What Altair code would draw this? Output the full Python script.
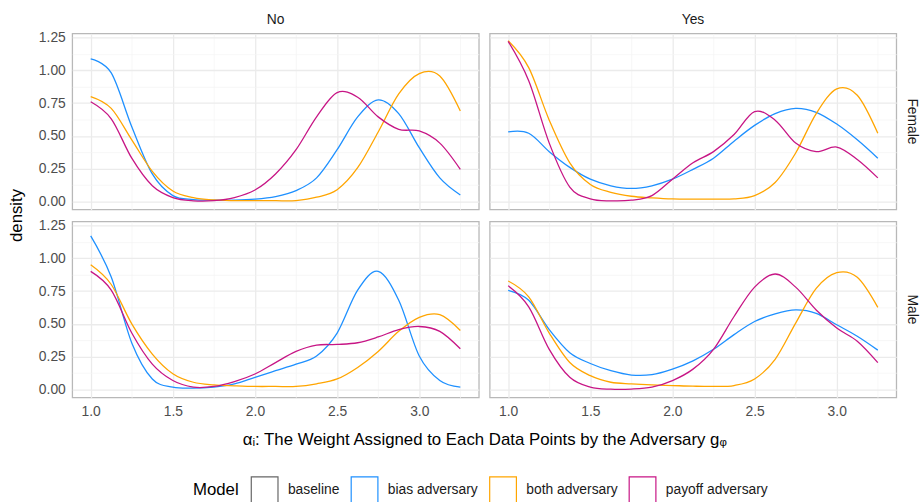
import altair as alt
import pandas as pd

# common evaluation grid for the density curves
x_grid = [1.0, 1.125, 1.25, 1.375, 1.5, 1.625, 1.75, 1.875, 2.0, 2.125,
          2.25, 2.375, 2.5, 2.625, 2.75, 2.875, 3.0, 3.125, 3.25]

models = ["baseline", "bias adversary", "both adversary", "payoff adversary"]
colors = ["#666666", "#1E90FF", "#FFA500", "#C71585"]

# Female / No
f_no_bias = [1.0875, 0.98, 0.57, 0.21, 0.045, 0.015, 0.01, 0.01, 0.0175, 0.0375,
             0.083, 0.18, 0.395, 0.645, 0.775, 0.67, 0.41, 0.18, 0.05]
f_no_both = [0.80, 0.71, 0.47, 0.23, 0.08, 0.03, 0.012, 0.007, 0.006, 0.006,
             0.0075, 0.0325, 0.09, 0.2575, 0.53, 0.82, 0.975, 0.957, 0.69]
f_no_payoff = [0.76, 0.63, 0.33, 0.12, 0.03, 0.005, 0.006, 0.03, 0.0875, 0.21,
               0.395, 0.645, 0.83, 0.795, 0.645, 0.55, 0.5375, 0.445, 0.245]
# Female / Yes
f_yes_bias = [0.53, 0.52, 0.38, 0.26, 0.17, 0.12, 0.10, 0.12, 0.17, 0.245,
              0.33, 0.46, 0.58, 0.67, 0.71, 0.68, 0.59, 0.47, 0.33]
f_yes_both = [1.225, 1.02, 0.62, 0.295, 0.13, 0.07, 0.04, 0.028, 0.02, 0.018,
              0.018, 0.02, 0.045, 0.145, 0.37, 0.67, 0.858, 0.81, 0.52]
f_yes_payoff = [1.22, 0.92, 0.445, 0.11, 0.02, 0.005, 0.01, 0.045, 0.17, 0.295,
                0.38, 0.51, 0.685, 0.62, 0.445, 0.38, 0.415, 0.32, 0.18]
# Male / No
m_no_bias = [1.17, 0.857, 0.355, 0.08, 0.018, 0.01, 0.018, 0.043, 0.093, 0.143,
             0.193, 0.255, 0.43, 0.757, 0.90, 0.68, 0.255, 0.068, 0.018]
m_no_both = [0.95, 0.80, 0.50, 0.27, 0.12, 0.055, 0.035, 0.028, 0.023, 0.023,
             0.023, 0.043, 0.08, 0.168, 0.29, 0.443, 0.55, 0.57, 0.45]
m_no_payoff = [0.90, 0.757, 0.43, 0.193, 0.068, 0.018, 0.023, 0.06, 0.118, 0.205,
               0.29, 0.338, 0.343, 0.356, 0.40, 0.456, 0.48, 0.443, 0.31]
# Male / Yes
m_yes_bias = [0.756, 0.68, 0.456, 0.28, 0.198, 0.143, 0.11, 0.113, 0.155, 0.218,
              0.306, 0.418, 0.518, 0.576, 0.606, 0.58, 0.493, 0.406, 0.30]
m_yes_both = [0.827, 0.706, 0.43, 0.205, 0.105, 0.055, 0.043, 0.035, 0.03, 0.025,
              0.023, 0.03, 0.08, 0.23, 0.506, 0.77, 0.89, 0.855, 0.626]
m_yes_payoff = [0.79, 0.63, 0.306, 0.093, 0.018, 0.002, 0.003, 0.018, 0.068, 0.155,
                0.306, 0.556, 0.78, 0.88, 0.78, 0.606, 0.468, 0.368, 0.205]

series = [
    ("Female", "No", "bias adversary", f_no_bias),
    ("Female", "No", "both adversary", f_no_both),
    ("Female", "No", "payoff adversary", f_no_payoff),
    ("Female", "Yes", "bias adversary", f_yes_bias),
    ("Female", "Yes", "both adversary", f_yes_both),
    ("Female", "Yes", "payoff adversary", f_yes_payoff),
    ("Male", "No", "bias adversary", m_no_bias),
    ("Male", "No", "both adversary", m_no_both),
    ("Male", "No", "payoff adversary", m_no_payoff),
    ("Male", "Yes", "bias adversary", m_yes_bias),
    ("Male", "Yes", "both adversary", m_yes_both),
    ("Male", "Yes", "payoff adversary", m_yes_payoff),
]

rows = []
for sex, grp, model, vals in series:
    for xv, dv in zip(x_grid, vals):
        rows.append({"sex": sex, "grp": grp, "Model": model, "alpha": xv, "density": dv})
df = pd.DataFrame(rows)

x_ticks = [1.0, 1.25, 1.5, 1.75, 2.0, 2.25, 2.5, 2.75, 3.0, 3.25]
y_ticks = [0.0, 0.125, 0.25, 0.375, 0.5, 0.625, 0.75, 0.875, 1.0, 1.125, 1.25]

FONT = "Liberation Sans"
X_TITLE = "αᵢ: The Weight Assigned to Each Data Points by the Adversary gᵩ"

base = alt.Chart(df).mark_line(interpolate="cardinal", strokeWidth=1.3).encode(
    x=alt.X("alpha:Q",
            scale=alt.Scale(domain=[0.8875, 3.3625], nice=False, zero=False),
            axis=alt.Axis(values=x_ticks, title=None,
                          labelExpr="datum.value % 0.5 == 0 ? format(datum.value, '.1f') : ''",
                          gridColor={"condition": {"test": "datum.value % 0.5 != 0", "value": "#F4F4F4"}, "value": "#EBEBEB"},
                          gridWidth={"condition": {"test": "datum.value % 0.5 != 0", "value": 0.7}, "value": 1.3},
                          )),
    y=alt.Y("density:Q",
            scale=alt.Scale(domain=[-0.061, 1.281], nice=False, zero=False),
            axis=alt.Axis(values=y_ticks, title=None,
                          labelExpr="datum.value % 0.25 == 0 ? format(datum.value, '.2f') : ''",
                          gridColor={"condition": {"test": "datum.value % 0.25 != 0", "value": "#F4F4F4"}, "value": "#EBEBEB"},
                          gridWidth={"condition": {"test": "datum.value % 0.25 != 0", "value": 0.7}, "value": 1.3},
                          )),
    color=alt.Color("Model:N",
                    scale=alt.Scale(domain=models, range=colors),
                    legend=alt.Legend(orient="none", direction="horizontal",
                                      legendX=122, legendY=447,
                                      titleOrient="left", title="Model",
                                      symbolType="square", symbolSize=729,
                                      symbolFillColor="white", symbolStrokeWidth=1.2,
                                      columnPadding=8, labelOffset=9,
                                      titleFontSize=17, labelFontSize=14,
                                      titleFont=FONT, labelFont=FONT,
                                      titleColor="#000000", labelColor="#1A1A1A",
                                      titleFontWeight="normal", titlePadding=11)),
).properties(width=411, height=178)

chart = base.facet(
    row=alt.Row("sex:N", sort=["Female", "Male"], title="density",
                header=alt.Header(titleOrient="left", labelOrient="right", labelAngle=90,
                                  titleFontSize=17, titleFont=FONT, titleColor="#000000",
                                  titleFontWeight="normal", titlePadding=2,
                                  labelFontSize=14, labelFont=FONT, labelColor="#1A1A1A",
                                  labelPadding=8)),
    column=alt.Column("grp:N", sort=["No", "Yes"], title=X_TITLE,
                      header=alt.Header(titleOrient="bottom", labelOrient="top",
                                        titleFontSize=17, titleFont=FONT, titleColor="#000000",
                                        titleFontWeight="normal", titlePadding=4,
                                        labelFontSize=14, labelFont=FONT, labelColor="#1A1A1A",
                                        labelPadding=6)),
    spacing={"row": 10, "column": 9},
).configure_view(
    stroke="#B8B8B8", strokeWidth=1.3
).configure_axis(
    domain=False, ticks=False,
    labelFont=FONT, labelFontSize=14, labelColor="#4D4D4D", labelPadding=6,
).properties(background="white", padding={"left": 8, "top": 10, "right": 4, "bottom": 4})

chart.save("out.html", embed_options={"renderer": "svg", "actions": False})
